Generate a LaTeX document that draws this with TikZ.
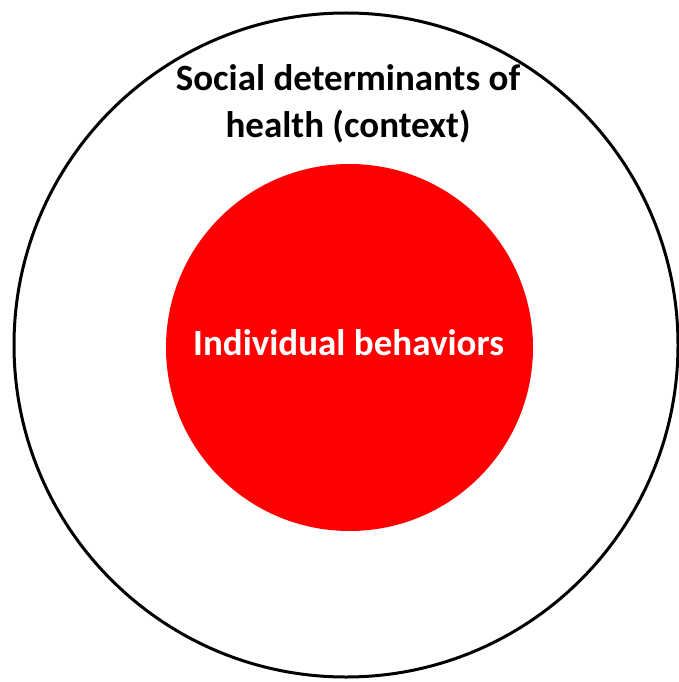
\documentclass[tikz,border=0pt]{standalone}
\usepackage{fontspec}
\setmainfont{Carlito}

\begin{document}
\begin{tikzpicture}[x=1pt, y=-1pt]
\useasboundingbox (0,0) rectangle (678,682);
\node [circle, draw, line width = 3pt, minimum size = 664pt, inner sep = 0pt] (context) at (346,345) {};
\node [circle, fill = red, minimum size = 367pt, inner sep = 0pt] (behav) at (349.5,347.5) {};
\node [align = center, font = \bfseries\fontsize{37}{47}\selectfont] (sdoh) at (348,104) {Social determinants of\\health (context)};
\node [text = white, font = \bfseries\fontsize{37}{44}\selectfont] (indiv) at (348.5,343) {Individual behaviors};
\end{tikzpicture}
\end{document}
